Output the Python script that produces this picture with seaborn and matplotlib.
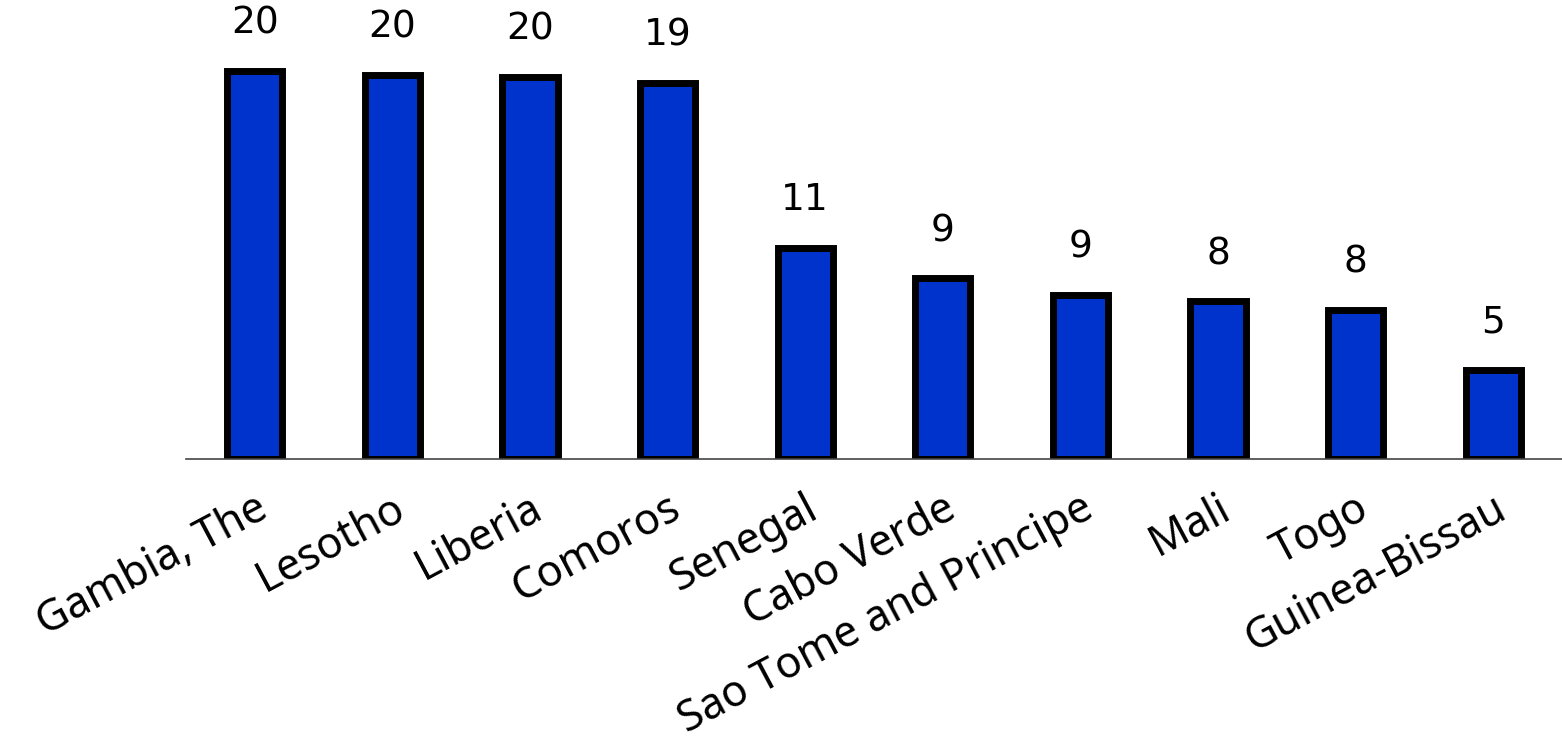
import numpy as np
import pandas as pd
import matplotlib
matplotlib.use("Agg")
import matplotlib.pyplot as plt
import seaborn as sns

countries = ["Gambia, The", "Lesotho", "Liberia", "Comoros", "Senegal",
             "Cabo Verde", "Sao Tome and Principe", "Mali", "Togo", "Guinea-Bissau"]
values = [20.10, 19.89, 19.79, 19.48, 10.94, 9.34, 8.51, 8.15, 7.73, 4.63]

sns.set_theme(style="white")
plt.rcParams['font.family'] = ['DejaVu Sans']

df = pd.DataFrame({"country": countries, "value": values})

fig = plt.figure(figsize=(15.62, 7.52), dpi=100)
ax = fig.add_axes([186/1562, 293/752, 1 - 186/1562, 459/752])

sns.barplot(data=df, x="country", y="value", color="#0033CC", saturation=1,
            width=0.40, edgecolor="black", linewidth=5, ax=ax)

for p, v in zip(ax.patches, values):
    ax.annotate(f"{v:.0f}", (p.get_x() + p.get_width() / 2, p.get_height()),
                xytext=(0, 21), textcoords="offset points",
                ha="center", va="bottom", fontsize=27, color="black",
                fontfamily="DejaVu Sans")

ax.set_ylim(0, 23.75)
ax.set_xlim(-0.5, 9.435)
ax.set_xlabel("")
ax.set_ylabel("")
ax.set_yticks([])
for s in ["top", "right", "left"]:
    ax.spines[s].set_visible(False)
ax.spines["bottom"].set_color("#444444")
ax.spines["bottom"].set_linewidth(1.2)

n = len(countries)
ax.set_xticks(np.arange(-0.5, n, 1.0))
ax.set_xticklabels([])
ax.tick_params(axis="x", which="major", length=7, width=1.2, color="#444444", direction="out")
ax.set_xticks(np.arange(n), minor=True)
ax.set_xticklabels(countries, minor=True, rotation=28, ha="right",
                   rotation_mode="anchor", fontsize=31, fontfamily="Noto Sans",
                   fontstyle="normal", color="black")
ax.tick_params(axis="x", which="minor", length=0, pad=20)

fig.savefig("out.png", dpi=100)
